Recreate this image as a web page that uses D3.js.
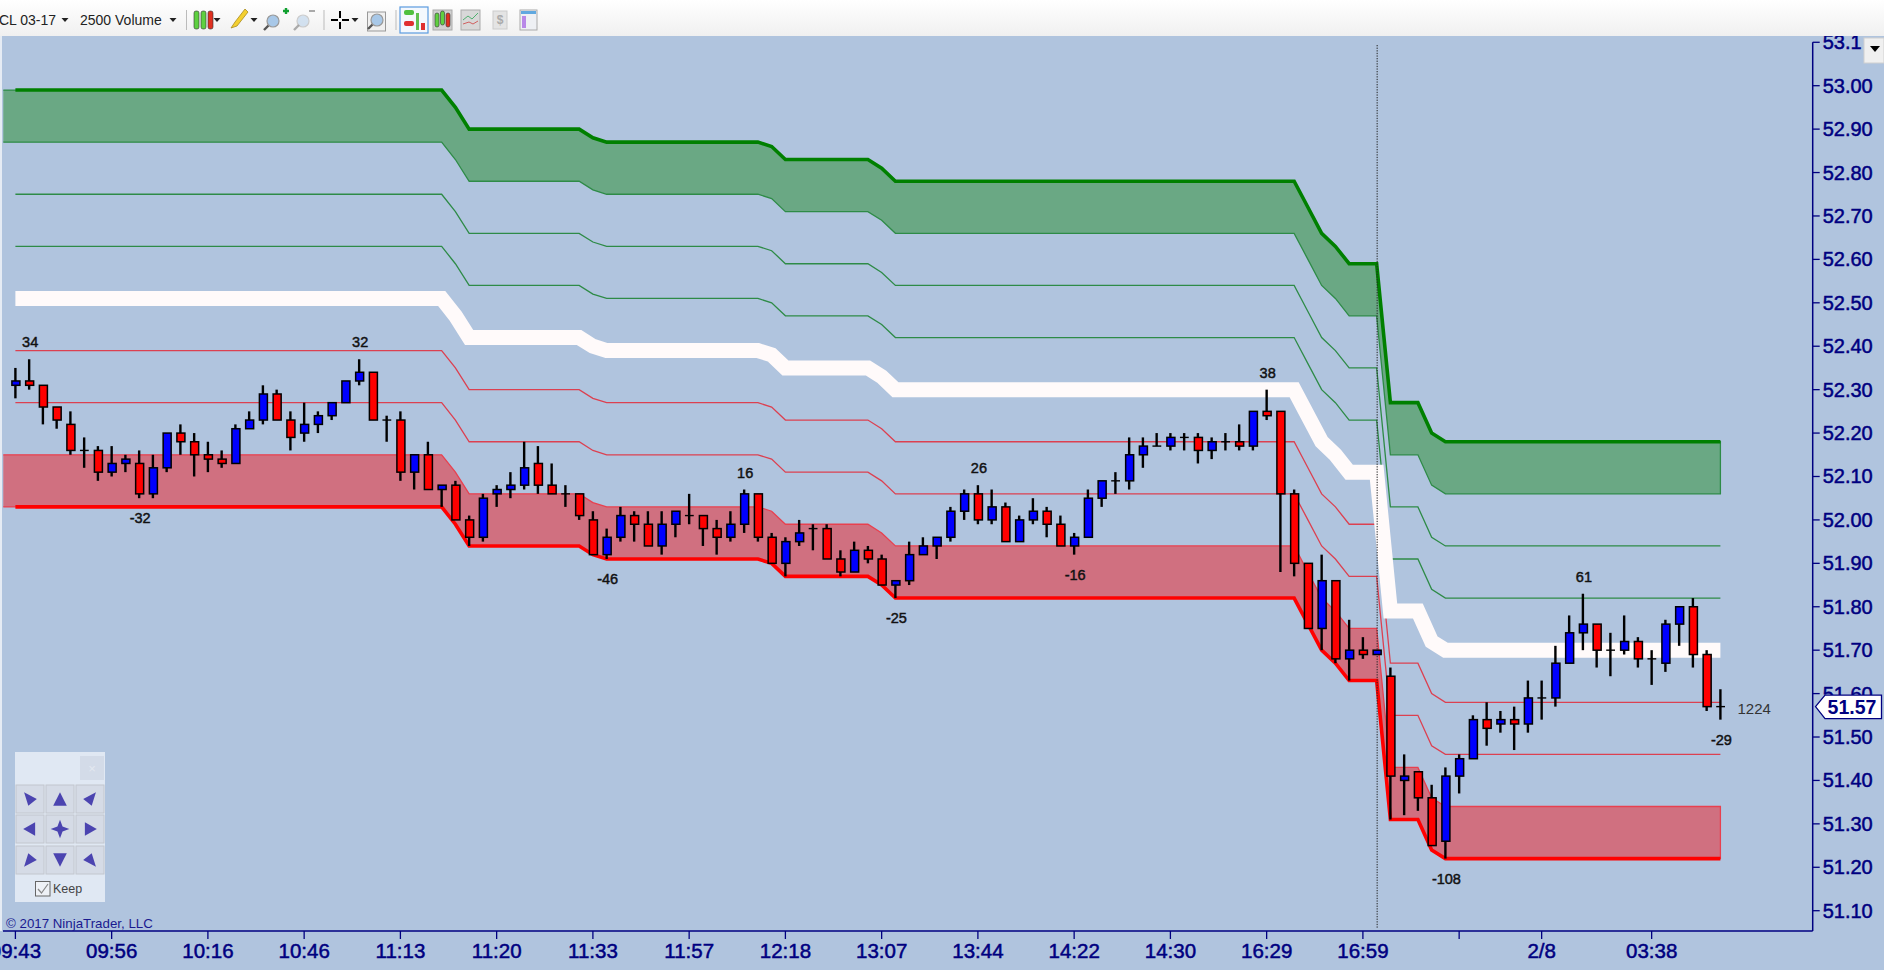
<!DOCTYPE html>
<html>
<head>
<meta charset="utf-8">
<script src="https://cdnjs.cloudflare.com/ajax/libs/d3/7.8.5/d3.min.js"></script>
<style>
html,body{margin:0;padding:0;background:#B0C4DE;overflow:hidden}
svg{display:block}
text{font-family:"Liberation Sans",Arial,sans-serif}
</style>
</head>
<body>
<svg id="c" width="1884" height="970"></svg>
<script>
// ---- data ----
const opens = [52.31,52.32,52.31,52.26,52.22,52.16,52.16,52.11,52.13,52.13,52.06,52.12,52.20,52.18,52.15,52.14,52.13,52.21,52.23,52.29,52.23,52.20,52.22,52.24,52.27,52.32,52.34,52.23,52.23,52.11,52.15,52.07,52.08,52.00,51.96,52.06,52.07,52.08,52.13,52.08,52.06,52.06,52.00,51.92,51.96,52.01,51.99,51.94,51.99,52.01,52.01,51.98,51.96,51.99,52.06,51.96,51.90,51.95,51.98,51.98,51.91,51.88,51.93,51.91,51.85,51.86,51.92,51.94,51.96,52.02,52.06,52.00,52.03,51.95,52.00,52.02,51.99,51.94,51.96,52.05,52.09,52.09,52.15,52.17,52.17,52.19,52.19,52.16,52.18,52.18,52.17,52.25,52.25,52.06,51.90,51.75,51.86,51.68,51.70,51.69,51.64,51.40,51.42,51.36,51.26,51.41,51.45,51.54,51.53,51.54,51.53,51.59,51.59,51.67,51.74,51.76,51.70,51.70,51.72,51.68,51.67,51.76,51.80,51.69,51.57];
const highs = [52.35,52.37,52.31,52.26,52.25,52.19,52.17,52.17,52.15,52.16,52.15,52.20,52.22,52.20,52.18,52.16,52.22,52.25,52.31,52.30,52.25,52.27,52.25,52.27,52.32,52.37,52.34,52.24,52.25,52.15,52.18,52.08,52.09,52.01,52.06,52.08,52.11,52.18,52.17,52.13,52.08,52.06,52.02,51.98,52.03,52.02,52.02,52.02,52.02,52.06,52.01,52.00,52.02,52.07,52.06,51.97,51.96,52.00,51.99,51.99,51.93,51.95,51.94,51.92,51.86,51.95,51.96,51.96,52.03,52.07,52.08,52.07,52.04,52.01,52.05,52.03,52.01,51.97,52.07,52.09,52.11,52.19,52.19,52.20,52.20,52.20,52.20,52.19,52.20,52.22,52.25,52.30,52.25,52.07,51.90,51.92,51.86,51.77,51.73,51.70,51.66,51.46,51.42,51.39,51.43,51.46,51.55,51.58,51.56,51.57,51.63,51.63,51.71,51.78,51.83,51.76,51.74,51.78,51.73,51.70,51.77,51.80,51.82,51.70,51.61];
const lows = [52.28,52.30,52.22,52.21,52.15,52.12,52.09,52.10,52.11,52.05,52.05,52.11,52.15,52.10,52.11,52.12,52.13,52.21,52.22,52.23,52.16,52.18,52.20,52.23,52.27,52.31,52.23,52.18,52.09,52.07,52.07,52.03,52.00,51.94,51.95,52.03,52.05,52.07,52.06,52.06,52.03,52.00,51.92,51.91,51.95,51.95,51.94,51.92,51.96,51.99,51.94,51.92,51.95,51.97,51.95,51.90,51.87,51.94,51.93,51.91,51.87,51.88,51.90,51.85,51.82,51.85,51.92,51.91,51.95,52.00,51.99,51.99,51.95,51.95,51.99,51.96,51.94,51.92,51.96,52.03,52.06,52.07,52.12,52.17,52.16,52.16,52.13,52.14,52.16,52.16,52.16,52.23,51.88,51.87,51.75,51.70,51.67,51.63,51.68,51.69,51.31,51.32,51.33,51.25,51.22,51.37,51.45,51.48,51.51,51.47,51.51,51.54,51.57,51.67,51.70,51.66,51.64,51.69,51.66,51.62,51.65,51.71,51.66,51.56,51.54];
const closes = [52.32,52.31,52.26,52.23,52.16,52.16,52.11,52.13,52.14,52.06,52.12,52.20,52.18,52.15,52.14,52.13,52.21,52.23,52.29,52.23,52.19,52.22,52.24,52.27,52.32,52.34,52.23,52.23,52.11,52.15,52.07,52.08,52.00,51.96,52.05,52.07,52.08,52.12,52.08,52.06,52.06,52.01,51.92,51.96,52.01,51.99,51.94,51.99,52.02,52.01,51.98,51.96,51.99,52.06,51.96,51.90,51.95,51.97,51.98,51.91,51.88,51.93,51.91,51.85,51.86,51.92,51.94,51.96,52.02,52.06,52.00,52.03,51.95,52.00,52.02,51.99,51.94,51.96,52.05,52.09,52.09,52.15,52.17,52.17,52.19,52.19,52.16,52.18,52.18,52.17,52.25,52.24,52.06,51.90,51.75,51.86,51.68,51.70,51.69,51.70,51.41,51.41,51.36,51.25,51.41,51.45,51.54,51.52,51.54,51.53,51.59,51.59,51.67,51.74,51.76,51.70,51.70,51.72,51.68,51.68,51.76,51.80,51.69,51.57,51.57];

const priceTicks = [53.10,53.00,52.90,52.80,52.70,52.60,52.50,52.40,52.30,52.20,52.10,52.00,51.90,51.80,51.70,51.60,51.50,51.40,51.30,51.20,51.10];
const priceLabels = ["53.1","53.00","52.90","52.80","52.70","52.60","52.50","52.40","52.30","52.20","52.10","52.00","51.90","51.80","51.70","51.60","51.50","51.40","51.30","51.20","51.10"];
const timeTickBars = [0,7,14,21,28,35,42,49,56,63,70,77,84,91,98,105,111,119];
const timeLabels = ["09:43","09:56","10:16","10:46","11:13","11:20","11:33","11:57","12:18","13:07","13:44","14:22","14:30","16:29","16:59","","2/8","03:38"];

// channel breakpoints (bar number, value of each channel line)
const bandBars   = [0,31,32,33,41,42,43,54,55,56,62,63,64,93,94,95,96,97,99,100,102,103,104,124];
const green1 = [52.99,52.99,52.95,52.90,52.90,52.88,52.87,52.87,52.86,52.83,52.83,52.81,52.78,52.78,52.72,52.66,52.63,52.59,52.59,52.27,52.27,52.20,52.18,52.18];
const green2 = [52.87,52.87,52.83,52.78,52.78,52.76,52.75,52.75,52.74,52.71,52.71,52.69,52.66,52.66,52.60,52.54,52.51,52.47,52.47,52.15,52.15,52.08,52.06,52.06];
const green3 = [52.75,52.75,52.71,52.66,52.66,52.64,52.63,52.63,52.62,52.59,52.59,52.57,52.54,52.54,52.48,52.42,52.39,52.35,52.35,52.03,52.03,51.96,51.94,51.94];
const green4 = [52.63,52.63,52.59,52.54,52.54,52.52,52.51,52.51,52.50,52.47,52.47,52.45,52.42,52.42,52.36,52.30,52.27,52.23,52.23,51.91,51.91,51.84,51.82,51.82];
const middle = [52.51,52.51,52.47,52.42,52.42,52.40,52.39,52.39,52.38,52.35,52.35,52.33,52.30,52.30,52.24,52.18,52.15,52.11,52.11,51.79,51.79,51.72,51.70,51.70];
const red4   = [52.39,52.39,52.35,52.30,52.30,52.28,52.27,52.27,52.26,52.23,52.23,52.21,52.18,52.18,52.12,52.06,52.03,51.99,51.99,51.67,51.67,51.60,51.58,51.58];
const red3   = [52.27,52.27,52.23,52.18,52.18,52.16,52.15,52.15,52.14,52.11,52.11,52.09,52.06,52.06,52.00,51.94,51.91,51.87,51.87,51.55,51.55,51.48,51.46,51.46];
const red2   = [52.15,52.15,52.11,52.06,52.06,52.04,52.03,52.03,52.02,51.99,51.99,51.97,51.94,51.94,51.88,51.82,51.79,51.75,51.75,51.43,51.43,51.36,51.34,51.34];
const red1   = [52.03,52.03,51.99,51.94,51.94,51.92,51.91,51.91,51.90,51.87,51.87,51.85,51.82,51.82,51.76,51.70,51.67,51.63,51.63,51.31,51.31,51.24,51.22,51.22];

const swingBars   = [1,25,9,43,53,64,70,77,91,104,114,124];
const swingLabels = ["34","32","-32","-46","16","-25","26","-16","38","-108","61","-29"];
const swingAbove  = [true,true,false,false,true,false,true,false,true,false,true,false];
const cursorBar = 99;
const lastPrice = 51.57;
const lastPriceText = "51.57";
const remainingText = "1224";

// ---- scales ----
const svg = d3.select("#c");
const x = d3.scaleLinear().domain([0,124]).range([15.4,1720.4]);
const y = d3.scaleLinear().domain([53,51.1]).range([85.7,910.7]);
const axisX = 1812.7, axisBottom = 931, toolbarH = 36;
const navy = "#000080";

svg.append("rect").attr("width",1884).attr("height",970).attr("fill","#B0C4DE");

// bands
const leftBar = -0.88;
const line = d3.line().x(d=>x(d[0])).y(d=>y(d[1]));
function withLead(a){return [[leftBar,a[0]]].concat(bandBars.map((b,i)=>[b,a[i]]));}
function bandArea(up,lo,fill,stroke){
  const a = d3.area().x(d=>x(d[0])).y0(d=>y(d[2])).y1(d=>y(d[1]));
  const u = withLead(up), l = withLead(lo);
  svg.append("path").datum(u.map((d,i)=>[d[0],d[1],l[i][1]])).attr("d",a).attr("fill",fill);
  // outline: upper edge, lower edge and closing right side, open at the left
  const outline = u.concat(l.slice().reverse());
  svg.append("path").datum(outline).attr("d",line).attr("fill","none")
     .attr("stroke",stroke).attr("stroke-width",1.3);
}
bandArea(green1,green2,"#6AA884","#2E8B47");
bandArea(red2,red1,"#D07080","#E8404F");

function series(a){return bandBars.map((b,i)=>[b,a[i]]);}
function draw(a,col,w){svg.append("path").datum(series(a)).attr("d",line).attr("fill","none")
   .attr("stroke",col).attr("stroke-width",w).attr("stroke-linejoin","miter");}
draw(green3,"#2E8B47",1.3);
draw(green4,"#2E8B47",1.3);
draw(red4,"#DC4050",1.3);
draw(red3,"#DC4050",1.3);
draw(middle,"#FFFAFA",15);
draw(green1,"#008000",3.6);
draw(red1,"#FF0000",3.6);

// cursor line
svg.append("line").attr("x1",x(cursorBar)+0.5).attr("x2",x(cursorBar)+0.5).attr("y1",45).attr("y2",axisBottom-2)
   .attr("stroke","#222").attr("stroke-width",1).attr("stroke-dasharray","1.3,1.3");

// candles
const bars = d3.range(opens.length);
const g = svg.append("g");
g.selectAll("line.w").data(bars).join("line").attr("class","w")
  .attr("x1",i=>x(i)).attr("x2",i=>x(i))
  .attr("y1",i=>y(highs[i])).attr("y2",i=>y(lows[i]))
  .attr("stroke","#000").attr("stroke-width",2.4);
g.selectAll("rect").data(bars.filter(i=>opens[i]!==closes[i])).join("rect")
  .attr("x",i=>x(i)-3.5)
  .attr("width",8)
  .attr("y",i=>y(Math.max(opens[i],closes[i])))
  .attr("height",i=>Math.abs(y(opens[i])-y(closes[i])))
  .attr("fill",i=>closes[i]>opens[i]?"#0000FF":"#FF0000")
  .attr("stroke","#000").attr("stroke-width",1.5);
g.selectAll("line.d").data(bars.filter(i=>opens[i]===closes[i])).join("line").attr("class","d")
  .attr("x1",i=>x(i)-4.2).attr("x2",i=>x(i)+4.6)
  .attr("y1",i=>y(opens[i])).attr("y2",i=>y(closes[i]))
  .attr("stroke","#000").attr("stroke-width",1.4);

// swing labels
svg.append("g").selectAll("text").data(swingBars).join("text")
  .attr("x",b=>x(b)+1)
  .attr("y",(b,i)=>swingAbove[i]?y(highs[b])-17:y(lows[b])+20)
  .attr("text-anchor","middle").attr("dominant-baseline","central")
  .attr("font-size",14.5).attr("fill","#111").attr("stroke","#111").attr("stroke-width",0.45)
  .text((b,i)=>swingLabels[i]);

// price axis
svg.append("line").attr("x1",axisX).attr("x2",axisX).attr("y1",y(53.1)).attr("y2",axisBottom).attr("stroke",navy).attr("stroke-width",1.5);
svg.append("line").attr("x1",3).attr("x2",axisX).attr("y1",axisBottom).attr("y2",axisBottom).attr("stroke",navy).attr("stroke-width",1.5);
const ga = svg.append("g");
ga.selectAll("line").data(priceTicks).join("line").attr("x1",axisX).attr("x2",axisX+7)
  .attr("y1",d=>y(d)).attr("y2",d=>y(d)).attr("stroke",navy).attr("stroke-width",1.3);
ga.selectAll("text").data(priceTicks).join("text").attr("x",axisX+10).attr("y",d=>y(d))
  .attr("dominant-baseline","central").attr("font-size",20).attr("fill",navy).attr("stroke",navy).attr("stroke-width",0.5)
  .text((d,i)=>priceLabels[i]);

// time axis
const gt = svg.append("g");
gt.selectAll("line").data(timeTickBars).join("line").attr("x1",d=>x(d)).attr("x2",d=>x(d))
  .attr("y1",axisBottom).attr("y2",axisBottom+8).attr("stroke",navy).attr("stroke-width",1.3);
gt.selectAll("text").data(timeTickBars).join("text").attr("x",d=>x(d)).attr("y",950)
  .attr("text-anchor","middle").attr("dominant-baseline","central")
  .attr("font-size",20.5).attr("fill",navy).attr("stroke",navy).attr("stroke-width",0.5)
  .text((d,i)=>timeLabels[i]);

// last price flag
const ly = y(lastPrice);
svg.append("path").attr("d",`M1815.5,${ly} L1825,${ly-11.5} L1881.5,${ly-11.5} L1881.5,${ly+12} L1825,${ly+12} Z`)
   .attr("fill","#fff").attr("stroke",navy).attr("stroke-width",1.3);
svg.append("text").attr("x",1852).attr("y",ly).attr("text-anchor","middle").attr("dominant-baseline","central")
   .attr("font-size",19.5).attr("font-weight","bold").attr("fill",navy).text(lastPriceText);
svg.append("text").attr("x",1737.5).attr("y",708).attr("dominant-baseline","central")
   .attr("font-size",15).attr("fill","#333").text(remainingText);

// copyright
svg.append("text").attr("x",6).attr("y",923.5).attr("dominant-baseline","central")
   .attr("font-size",13.3).attr("fill","#1a1a90").text("© 2017 NinjaTrader, LLC");

// left strip
svg.append("rect").attr("x",0).attr("y",toolbarH).attr("width",2).attr("height",895).attr("fill","#E6ECF4");

// control panel
const cp = svg.append("g");
cp.append("rect").attr("x",15).attr("y",752).attr("width",90).attr("height",150).attr("fill","#E0E8F3");
cp.append("rect").attr("x",80).attr("y",756).attr("width",24).attr("height",24).attr("fill","#D3DBE8");
cp.append("text").attr("x",92).attr("y",768).attr("text-anchor","middle").attr("dominant-baseline","central").attr("font-size",13).attr("fill","#E3E8F0").text("×");
const colsX=[16,46,76], rowsY=[785,815,846];
const arrows=[
 ["M-7,-8 L8,0 L-2,8 Z","M0,-8 L8,8 L-8,8 Z","M7,-8 L2,8 L-8,0 Z"],
 ["M6,-8 L6,8 L-8,0 Z","M0,-11 L3,-3 L11,0 L3,3 L0,11 L-3,3 L-11,0 L-3,-3 Z","M-6,-8 L-6,8 L8,0 Z"],
 ["M-7,8 L-2,-8 L8,0 Z","M-8,-8 L8,-8 L0,8 Z","M7,8 L2,-8 L-8,0 Z"]];
rowsY.forEach((ry,r)=>colsX.forEach((cx,c)=>{
  cp.append("rect").attr("x",cx).attr("y",ry).attr("width",28).attr("height",28).attr("fill","#D5DBE6").attr("stroke","#C2C6CE").attr("stroke-width",1);
  cp.append("path").attr("transform",`translate(${cx+14},${ry+14}) scale(.85)`).attr("d",arrows[r][c]).attr("fill","#4B44B0");
}));
cp.append("rect").attr("x",35.5).attr("y",881.5).attr("width",14.5).attr("height",14.5).attr("fill","#EEF1F6").attr("stroke","#666");
cp.append("path").attr("d","M38,889 L41.5,893 L48,884").attr("fill","none").attr("stroke","#888").attr("stroke-width",1.2);
cp.append("text").attr("x",53).attr("y",889).attr("dominant-baseline","central").attr("font-size",12.5).attr("fill","#444").attr("font-family","Noto Sans").text("Keep");

// toolbar
const defs = svg.append("defs");
const gr = defs.append("linearGradient").attr("id","tb").attr("x1",0).attr("x2",0).attr("y1",0).attr("y2",1);
gr.append("stop").attr("offset",0).attr("stop-color","#FFFFFF");
gr.append("stop").attr("offset",1).attr("stop-color","#F0F0F0");
const tb = svg.append("g");
tb.append("rect").attr("width",1884).attr("height",toolbarH).attr("fill","url(#tb)");
tb.append("text").attr("x",-1).attr("y",20).attr("dominant-baseline","central").attr("font-size",14).attr("font-family","Open Sans").attr("fill","#222").text("CL 03-17");
tb.append("text").attr("x",80).attr("y",20).attr("dominant-baseline","central").attr("font-size",14).attr("font-family","Open Sans").attr("fill","#222").text("2500 Volume");
function tri(cx,cy,c){tb.append("path").attr("d",`M${cx-3.5},${cy-2} L${cx+3.5},${cy-2} L${cx},${cy+2} Z`).attr("fill",c||"#222");}
[65,173,217,254,355].forEach(c=>tri(c,20));
[186.5,324,396].forEach(sx=>tb.append("line").attr("x1",sx).attr("x2",sx).attr("y1",10).attr("y2",30).attr("stroke","#BBB"));
function pill(px,py,w,h,c){tb.append("rect").attr("x",px).attr("y",py).attr("width",w).attr("height",h).attr("rx",2).attr("fill",c).attr("stroke","#333").attr("stroke-width",.6);}
pill(194,11,5,18,"#5ED040");pill(201,11,5,18,"#5ED040");pill(208,11,5,18,"#E03020");
tb.append("path").attr("d","M231,28 L235,22 L245,9 L248,12 L237,26 Z").attr("fill","#F4D030").attr("stroke","#A88A20").attr("stroke-width",.8);
function mag(cx,cy,op){tb.append("line").attr("x1",cx-4).attr("y1",cy+4).attr("x2",cx-9).attr("y2",cy+9).attr("stroke","#555").attr("stroke-width",2.4).attr("opacity",op);
  tb.append("circle").attr("cx",cx).attr("cy",cy).attr("r",6).attr("fill","#A8C8E8").attr("stroke","#999").attr("stroke-width",1.2).attr("opacity",op);}
mag(273,21,1);
tb.append("path").attr("d","M283,11 h6 M286,8 v6").attr("stroke","#10A030").attr("stroke-width",2.4);
mag(303,21,.45);
tb.append("path").attr("d","M309,11 h6").attr("stroke","#AAA").attr("stroke-width",2);
tb.append("path").attr("d","M331,20 h7 M342,20 h7 M340,11 v7 M340,22 v7").attr("stroke","#000").attr("stroke-width",2);
tb.append("rect").attr("x",367.5).attr("y",12).attr("width",18).attr("height",19).attr("fill","#F0F0F0").attr("stroke","#999");
mag(377,20,1);
tb.append("rect").attr("x",400).attr("y",7).attr("width",28).attr("height",26).attr("fill","#F4F8FD").attr("stroke","#5A9BE0").attr("stroke-width",1.2);
tb.append("rect").attr("x",404).attr("y",10).attr("width",10).attr("height",5).attr("rx",2).attr("fill","#50C040");
tb.append("rect").attr("x",404).attr("y",21).attr("width",10).attr("height",5).attr("rx",2).attr("fill","#E03030");
tb.append("rect").attr("x",416).attr("y",13).attr("width",3).attr("height",17).attr("fill","#60C050");
tb.append("rect").attr("x",421).attr("y",23).attr("width",4).attr("height",7).attr("fill","#E03030");
tb.append("rect").attr("x",433).attr("y",10).attr("width",19).attr("height",20).attr("fill","#D0D0D0").attr("stroke","#AAA");
pill(435,13,4,14,"#60D040");pill(440.5,11,4,14,"#60D040");pill(446,13,4,14,"#E03020");
tb.append("rect").attr("x",461).attr("y",10).attr("width",19).attr("height",20).attr("fill","#D8D8D8").attr("stroke","#AAA");
tb.append("path").attr("d","M463,20 L468,16 L472,19 L478,13").attr("fill","none").attr("stroke","#50B070");
tb.append("path").attr("d","M463,24 L469,22 L473,24 L478,21").attr("fill","none").attr("stroke","#D06060");
tb.append("rect").attr("x",493).attr("y",11).attr("width",14).attr("height",18).attr("fill","#E4E4E4").attr("stroke","#CCC");
tb.append("text").attr("x",500).attr("y",20).attr("text-anchor","middle").attr("dominant-baseline","central").attr("font-size",12).attr("font-weight","bold").attr("fill","#AAA").text("$");
tb.append("rect").attr("x",520).attr("y",10).attr("width",17).attr("height",20).attr("fill","#EEF0F4").attr("stroke","#AAA");
tb.append("rect").attr("x",521).attr("y",11).attr("width",15).attr("height",3).attr("fill","#60A8E0");
tb.append("rect").attr("x",522).attr("y",16).attr("width",4).attr("height",12).attr("fill","#B888E8");
// dropdown button top right
tb.append("rect").attr("x",1864).attr("y",38).attr("width",20).attr("height",25).attr("fill","#F0F0F0").attr("stroke","#D0D0D0");
tb.append("path").attr("d","M1870,46 L1880,46 L1875,52 Z").attr("fill","#000");
</script>
</body>
</html>
